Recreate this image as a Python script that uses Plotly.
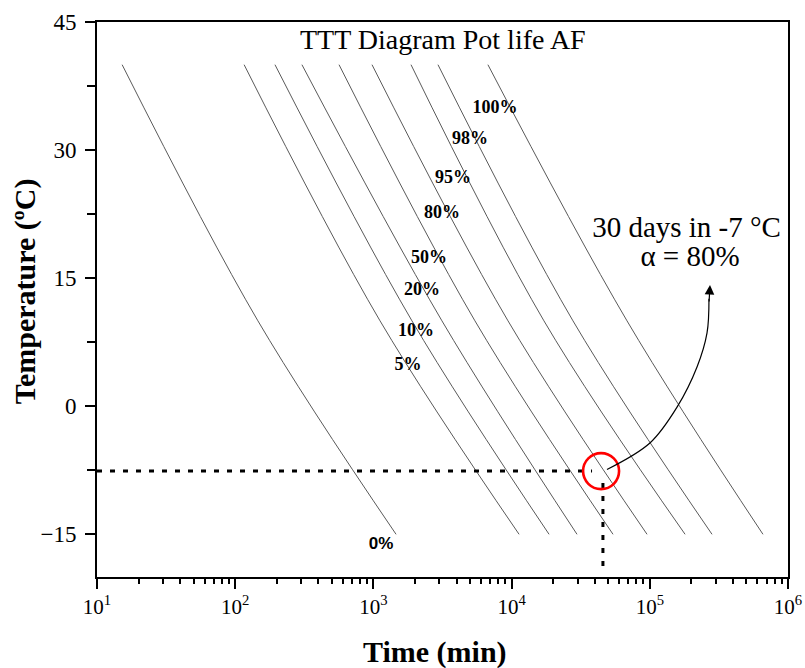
import math
import plotly.graph_objects as go

# ---------------- data ----------------
labels = ["0%", "5%", "10%", "20%", "50%", "80%", "95%", "98%", "100%"]
temps = [40, 10, -15]  # °C at which each curve was read
t_top = [15.2, 116, 194, 304, 564, 977, 1871, 2933, 6740]          # min at 40 °C
t_mid = [146, 1117, 1901, 3133, 5430, 9420, 17140, 27800, 68400]    # min at 10 °C
t_bot = [1459, 11330, 18670, 29730, 54180, 95500, 180000, 282000, 659000]  # min at -15 °C

label_t = [1135, 1778, 2034, 2248, 2525, 3130, 3770, 5000, 7590]
label_T = [-16.2, 4.8, 8.8, 13.6, 17.3, 22.6, 26.7, 31.2, 34.9]

# marked point: 30 days at about -7 °C
point_t = 44400
point_T = -7.6
hline_t = [10, 38200]
vline_T = [-9.0, -19.6]
vline_t = 45800

arrow_t = [49000, 100200, 157400, 219600, 259500, 268000]
arrow_T = [-7.4, -4.3, -0.1, 4.6, 8.6, 12.6]
arrow_tip_t = 272700
arrow_tip_T = 14.2

note_lines = ["30 days in -7 °C", "α = 80%"]
note_t = [184500, 195400]
note_T = [20.7, 17.3]

x_tickvals = [10, 100, 1000, 10000, 100000, 1000000]
x_ticktext = ["10<sup>1</sup>", "10<sup>2</sup>", "10<sup>3</sup>",
              "10<sup>4</sup>", "10<sup>5</sup>", "10<sup>6</sup>"]
y_tickvals = [-15, 0, 15, 30, 45]
y_ticktext = ["\u221215", "0", "15", "30", "45"]

SERIF = "Liberation Serif, Times New Roman, serif"

fig = go.Figure()

for i, lab in enumerate(labels):
    fig.add_trace(go.Scatter(
        x=[t_top[i], t_mid[i], t_bot[i]], y=temps,
        mode="lines", line=dict(color="#5a5a5a", width=1, shape="spline"),
        hoverinfo="skip", showlegend=False))

# curve labels
for i, lab in enumerate(labels):
    fam = "Liberation Sans, Arial, sans-serif" if lab == "0%" else SERIF
    size = 17 if lab == "0%" else 18
    fig.add_trace(go.Scatter(
        x=[label_t[i]], y=[label_T[i]], mode="text", text=["<b>%s</b>" % lab],
        textfont=dict(family=fam, size=size, color="black"),
        hoverinfo="skip", showlegend=False))

# dotted guide lines
fig.add_trace(go.Scatter(
    x=hline_t, y=[point_T, point_T], mode="lines",
    line=dict(color="black", width=3, dash="5px,8px"),
    hoverinfo="skip", showlegend=False))
fig.add_trace(go.Scatter(
    x=[vline_t, vline_t], y=vline_T, mode="lines",
    line=dict(color="black", width=3, dash="5px,8px"),
    hoverinfo="skip", showlegend=False))

# red circle
fig.add_trace(go.Scatter(
    x=[point_t], y=[point_T], mode="markers",
    marker=dict(symbol="circle-open", size=36, color="red", line=dict(color="red", width=2.6)),
    hoverinfo="skip", showlegend=False))

# curved arrow
fig.add_trace(go.Scatter(
    x=arrow_t, y=arrow_T, mode="lines",
    line=dict(color="black", width=1.2, shape="spline"),
    hoverinfo="skip", showlegend=False))

# note text
for i, line in enumerate(note_lines):
    fig.add_trace(go.Scatter(
        x=[note_t[i]], y=[note_T[i]], mode="text", text=[line],
        textfont=dict(family=SERIF, size=29, color="black"),
        hoverinfo="skip", showlegend=False))

fig.add_annotation(
    x=math.log10(arrow_tip_t), y=arrow_tip_T, xref="x", yref="y",
    text="", showarrow=True, ax=-1, ay=18, axref="pixel", ayref="pixel",
    arrowhead=2, arrowsize=1.6, arrowwidth=1.2, arrowcolor="black")

# title inside plot
fig.add_annotation(
    x=0.5, y=0.968, xref="paper", yref="paper", text="TTT Diagram Pot life AF",
    showarrow=False, xanchor="center", yanchor="middle",
    font=dict(family=SERIF, size=28, color="black"))

# axis titles
fig.add_annotation(
    x=0.489, y=-0.135, xref="paper", yref="paper", text="<b>Time (min)</b>",
    showarrow=False, xanchor="center", yanchor="middle",
    font=dict(family=SERIF, size=30, color="black"))
fig.add_annotation(
    x=-0.104, y=0.515, xref="paper", yref="paper", text="<b>Temperature (ºC)</b>",
    textangle=-90, showarrow=False, xanchor="center", yanchor="middle",
    font=dict(family=SERIF, size=30, color="black"))

minor_x = []
for d in [10, 100, 1000, 10000, 100000]:
    minor_x += [d * k for k in range(2, 10)]

fig.update_layout(
    width=805, height=668,
    margin=dict(l=97, r=17, t=22, b=91, autoexpand=False),
    paper_bgcolor="white", plot_bgcolor="white",
    showlegend=False,
    xaxis=dict(
        type="log", range=[1, 6], tickvals=x_tickvals, ticktext=x_ticktext,
        automargin=False,
        ticks="outside", ticklen=10, tickwidth=2, tickcolor="black",
        showline=True, linewidth=2, linecolor="black", mirror=True,
        showgrid=False, zeroline=False,
        tickfont=dict(family=SERIF, size=21, color="black"),
        minor=dict(tickvals=minor_x, ticks="outside", ticklen=5, tickwidth=2,
                   tickcolor="black", showgrid=False),
    ),
    yaxis=dict(
        range=[-20, 45], tickvals=y_tickvals, ticktext=y_ticktext,
        automargin=False, ticklabelstandoff=4,
        ticks="outside", ticklen=10, tickwidth=2, tickcolor="black",
        showline=True, linewidth=2, linecolor="black", mirror=True,
        showgrid=False, zeroline=False,
        tickfont=dict(family=SERIF, size=23, color="black"),
        minor=dict(tickvals=[-7.5, 7.5, 22.5, 37.5], ticks="outside", ticklen=8,
                   tickwidth=2, tickcolor="black", showgrid=False),
    ),
)

fig.write_html(
    "out.html",
    config={"displayModeBar": False},
    post_script="document.body.style.margin='0';document.body.style.overflow='hidden';")
